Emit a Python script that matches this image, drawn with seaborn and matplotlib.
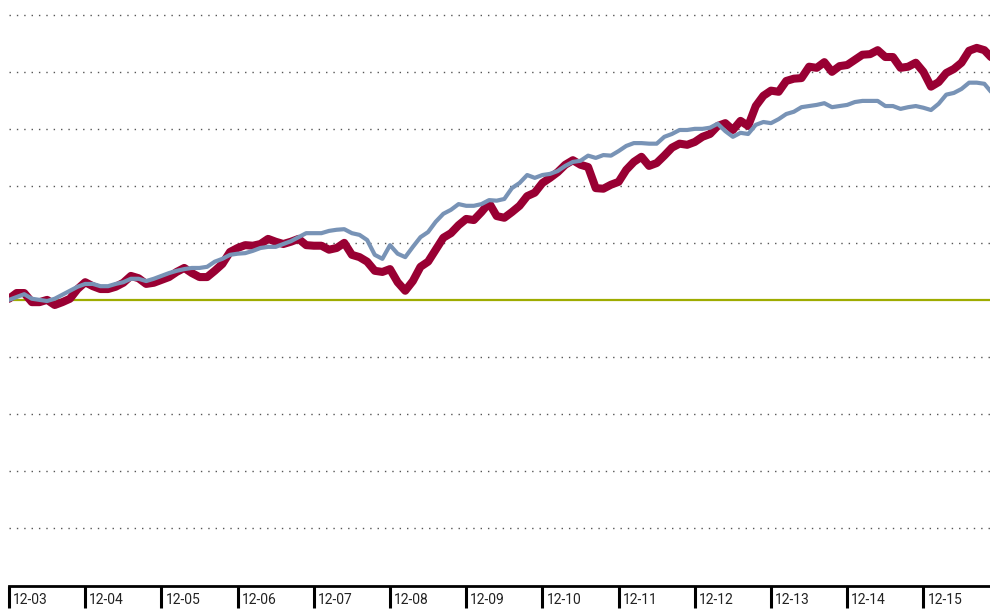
import matplotlib
matplotlib.use("Agg")
import matplotlib.pyplot as plt
import seaborn as sns
import pandas as pd

# Period labels shown under the axis, one every ten observations
tick_labels = ["12-03", "12-04", "12-05", "12-06", "12-07", "12-08", "12-09",
               "12-10", "12-11", "12-12", "12-13", "12-14", "12-15"]

# Cumulative performance (%) of the fund
fund = [0.3, 1.3, 1.3, -0.3, -0.3, 0.1, -0.8, -0.3, 0.3, 2.0,
        3.2, 2.5, 2.0, 2.0, 2.4, 3.1, 4.3, 3.9, 2.9, 3.1,
        3.6, 4.1, 5.0, 5.7, 4.8, 4.1, 4.1, 5.2, 6.4, 8.5,
        9.2, 9.7, 9.6, 9.9, 10.8, 10.3, 9.9, 10.3, 10.8, 9.7,
        9.6, 9.6, 8.9, 9.2, 10.1, 8.0, 7.6, 6.8, 5.2, 5.0,
        5.5, 3.2, 1.7, 3.4, 5.9, 6.8, 8.9, 11.0, 11.8, 13.2,
        14.3, 14.1, 15.5, 17.1, 14.8, 14.5, 15.5, 16.6, 18.3, 18.9,
        20.6, 21.5, 22.5, 23.8, 24.6, 23.8, 23.4, 19.7, 19.6, 20.3,
        20.8, 22.9, 24.3, 25.2, 23.6, 24.1, 25.4, 26.8, 27.5, 27.3,
        27.8, 28.7, 29.2, 30.6, 31.1, 29.9, 31.5, 30.6, 34.1, 35.9,
        36.8, 36.6, 38.5, 38.9, 39.0, 41.0, 40.8, 41.8, 40.1, 41.1,
        41.3, 42.2, 43.1, 43.2, 43.9, 42.7, 42.7, 40.8, 41.0, 41.7,
        40.1, 37.5, 38.3, 39.9, 40.6, 41.7, 43.8, 44.3, 43.9, 42.5]

# Cumulative performance (%) of the benchmark
benchmark = [0.1, 0.6, 1.1, 0.3, 0.1, -0.1, 0.3, 1.0, 1.7, 2.4,
             2.9, 2.9, 2.5, 2.5, 2.9, 3.2, 3.8, 3.8, 3.4, 3.8,
             4.3, 4.8, 5.2, 5.5, 5.7, 5.7, 5.9, 6.8, 7.3, 8.0,
             8.2, 8.3, 8.7, 9.2, 9.4, 9.4, 9.9, 10.4, 11.1, 11.8,
             11.8, 11.8, 12.2, 12.4, 12.5, 11.8, 11.5, 10.6, 8.0, 7.3,
             9.7, 8.2, 7.6, 9.4, 11.1, 12.0, 13.8, 15.2, 15.9, 16.9,
             16.6, 16.6, 16.9, 17.6, 17.5, 17.8, 19.7, 20.6, 22.0, 21.5,
             22.0, 22.2, 22.7, 23.6, 24.3, 24.5, 25.4, 25.0, 25.5, 25.4,
             26.2, 27.1, 27.6, 27.6, 27.5, 27.5, 28.7, 29.2, 29.9, 29.9,
             30.1, 30.1, 30.3, 31.0, 29.7, 28.7, 29.4, 29.2, 30.8, 31.3,
             31.1, 31.8, 32.7, 33.1, 33.9, 34.1, 34.3, 34.6, 33.9, 34.1,
             34.3, 34.8, 35.0, 35.0, 35.0, 34.1, 34.1, 33.6, 33.9, 34.1,
             33.8, 33.4, 34.5, 36.1, 36.4, 37.1, 38.2, 38.2, 38.0, 36.4]

grid_levels = [-40, -30, -20, -10, 10, 20, 30, 40, 50]

df = pd.DataFrame({
    "t": list(range(len(fund))) * 2,
    "value": fund + benchmark,
    "series": ["Fund"] * len(fund) + ["Benchmark"] * len(benchmark),
})

sns.set_style("white")
plt.rcParams["font.family"] = ["Roboto", "DejaVu Sans"]

fig = plt.figure(figsize=(9.9, 6.11), dpi=100)
ax = fig.add_axes([9 / 990, 25.5 / 611, 981 / 990, 585.5 / 611])

sns.lineplot(data=df, x="t", y="value", hue="series", size="series",
             hue_order=["Fund", "Benchmark"],
             palette={"Fund": "#990033", "Benchmark": "#7893b6"},
             sizes={"Fund": 5.8, "Benchmark": 3.0},
             legend=False, ax=ax, zorder=3,
             solid_joinstyle="round", solid_capstyle="round")

# zero line
ax.axhline(0, color="#9fac00", lw=1.6, zorder=2)

ax.set_xlim(0, 128.74)
ax.set_ylim(-50, 52.7)

ax.set_yticks(grid_levels)
ax.grid(axis="y", color="#555555", lw=1.0, linestyle=(0, (1, 4.3)))
ax.grid(axis="x", visible=False)
ax.tick_params(axis="y", left=False, labelleft=False)

ticks = [i * 10 for i in range(len(tick_labels))]
ax.set_xticks(ticks)
ax.set_xticklabels([])
ax.tick_params(axis="x", direction="out", length=16, width=2.2,
               color="black", bottom=True)
for t, lab in zip(ticks, tick_labels):
    ax.annotate(lab, xy=(t, 0), xycoords=ax.get_xaxis_transform(),
                xytext=(4, -15), textcoords="offset pixels",
                ha="left", va="center", fontsize=10, color="#222222")

for side in ("top", "left", "right"):
    ax.spines[side].set_visible(False)
ax.spines["bottom"].set_color("black")
ax.spines["bottom"].set_linewidth(2)

ax.set_xlabel("")
ax.set_ylabel("")

fig.savefig("out.png", dpi=100)
